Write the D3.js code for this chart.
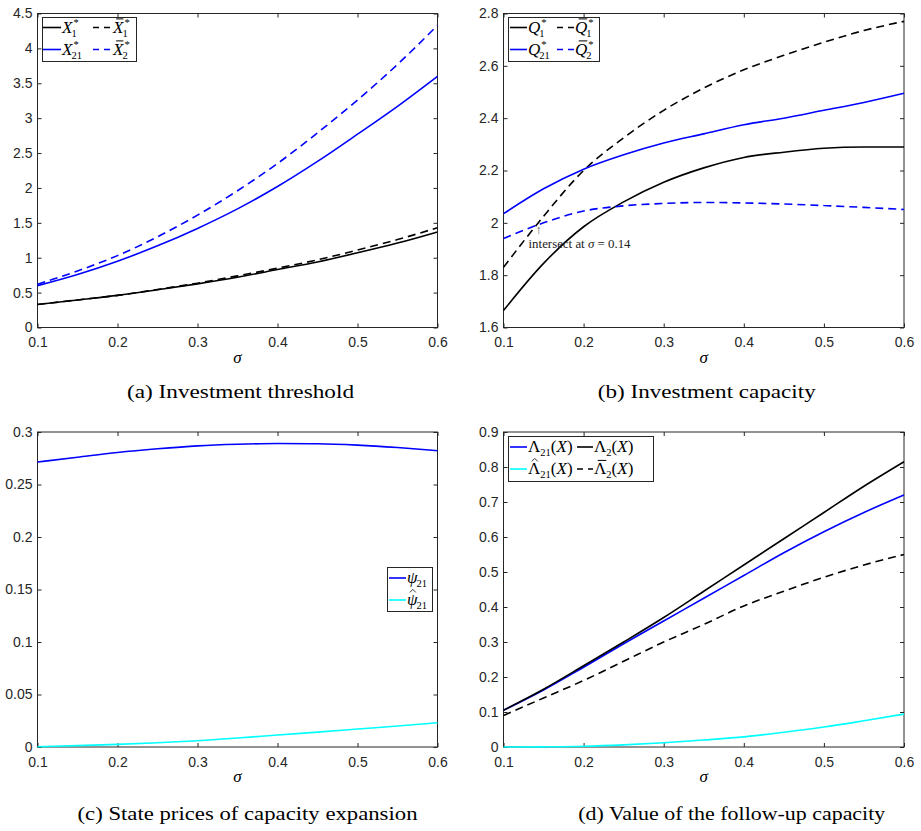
<!DOCTYPE html>
<html lang="en">
<head>
<meta charset="utf-8"/>
<script src="https://d3js.org/d3.v7.min.js"></script>
<style>
  body { margin: 0; background: #fff; }
</style>
</head>
<body>
<div id="chart"></div>
<script>
// sigma grid shared by every panel
var sigma = [0.1, 0.15, 0.2, 0.25, 0.3, 0.35, 0.4, 0.45, 0.5, 0.55, 0.6];
var xTicks = [0.1, 0.2, 0.3, 0.4, 0.5, 0.6];

// (a) investment threshold
var X1 = [0.33, 0.395, 0.46, 0.54, 0.625, 0.72, 0.83, 0.94, 1.07, 1.21, 1.37];
var X1bar = [0.33, 0.395, 0.46, 0.545, 0.635, 0.74, 0.85, 0.97, 1.11, 1.26, 1.43];
var X21 = [0.6, 0.76, 0.95, 1.17, 1.42, 1.7, 2.02, 2.38, 2.77, 3.17, 3.6];
var X2bar = [0.62, 0.81, 1.03, 1.3, 1.61, 1.96, 2.35, 2.79, 3.26, 3.77, 4.33];
var yTicksA = [0, 0.5, 1, 1.5, 2, 2.5, 3, 3.5, 4, 4.5];

// (b) investment capacity
var Q1 = [1.665, 1.845, 1.985, 2.08, 2.155, 2.21, 2.25, 2.27, 2.285, 2.29, 2.29];
var Q1bar = [1.83, 2.025, 2.2, 2.325, 2.43, 2.515, 2.585, 2.64, 2.69, 2.735, 2.77];
var Q21 = [2.035, 2.13, 2.205, 2.26, 2.305, 2.34, 2.375, 2.4, 2.43, 2.46, 2.495];
var Q2bar = [1.94, 2.0, 2.045, 2.065, 2.074, 2.078, 2.076, 2.072, 2.066, 2.059, 2.051];
var yTicksB = [1.6, 1.8, 2, 2.2, 2.4, 2.6, 2.8];
var intersectSigma = 0.14;

// (c) state prices
var psi21 = [0.2714, 0.276, 0.2805, 0.284, 0.2868, 0.2883, 0.289, 0.2888, 0.2875, 0.2852, 0.2822];
var psi21hat = [0.0003, 0.0013, 0.0025, 0.004, 0.006, 0.0085, 0.0114, 0.0142, 0.0171, 0.02, 0.0231];
var yTicksC = [0, 0.05, 0.1, 0.15, 0.2, 0.25, 0.3];

// (d) value of the follow-up capacity
var Lam21 = [0.105, 0.163, 0.228, 0.295, 0.36, 0.425, 0.49, 0.555, 0.615, 0.67, 0.72];
var Lam2 = [0.105, 0.165, 0.232, 0.3, 0.37, 0.445, 0.52, 0.595, 0.67, 0.745, 0.815];
var Lam21hat = [0.0, 0.0005, 0.002, 0.006, 0.012, 0.02, 0.029, 0.042, 0.057, 0.075, 0.094];
var Lam2bar = [0.09, 0.14, 0.19, 0.245, 0.3, 0.35, 0.403, 0.445, 0.485, 0.52, 0.55];
var yTicksD = [0, 0.1, 0.2, 0.3, 0.4, 0.5, 0.6, 0.7, 0.8, 0.9];

var serif = "'Liberation Serif', 'DejaVu Serif', serif";
var sans = "'Liberation Sans', Arial, sans-serif";
var axisColor = "#262626";
var dash = "8,5";

var svg = d3.select("#chart").append("svg")
    .attr("width", 921)
    .attr("height", 831);

// draws a small LaTeX-like label: tokens with optional accent, sub and sup
function mathText(g, x, y, toks, size) {
    var cx = x;
    var ss = size * 0.62;
    toks.forEach(function (tk) {
        var b = g.append("text")
            .attr("x", cx).attr("y", y)
            .attr("font-family", serif)
            .attr("font-size", size)
            .attr("font-style", tk.it ? "italic" : "normal")
            .text(tk.t);
        var w = b.node().getComputedTextLength();
        if (tk.acc == "bar") {
            g.append("line")
                .attr("x1", cx + w * 0.3).attr("x2", cx + w * 1.0)
                .attr("y1", y - size * 0.8).attr("y2", y - size * 0.8)
                .attr("stroke", "#000").attr("stroke-width", 1);
        }
        if (tk.acc == "hat") {
            var hx = cx + w * 0.55, hy = y - size * 0.74;
            g.append("path")
                .attr("d", "M" + (hx - 3) + "," + hy + "L" + hx + "," + (hy - 3) + "L" + (hx + 3) + "," + hy)
                .attr("fill", "none").attr("stroke", "#000").attr("stroke-width", 0.8);
        }
        var sw = 0;
        if (tk.sup) {
            var s = g.append("text")
                .attr("x", cx + w + 1).attr("y", y - size * 0.4)
                .attr("font-family", serif).attr("font-size", ss)
                .text(tk.sup);
            sw = Math.max(sw, s.node().getComputedTextLength() + 1);
        }
        if (tk.sub) {
            var u = g.append("text")
                .attr("x", cx + w - (tk.it ? 1 : 0)).attr("y", y + size * 0.25)
                .attr("font-family", serif).attr("font-size", ss)
                .text(tk.sub);
            sw = Math.max(sw, u.node().getComputedTextLength() - (tk.it ? 1 : 0));
        }
        cx += w + sw;
    });
    return cx;
}

function panel(p) {
    var x = d3.scaleLinear().domain([0.1, 0.6]).range(p.xr);
    var y = d3.scaleLinear().domain([p.yTicks[0], p.yTicks[p.yTicks.length - 1]]).range(p.yr);
    var g = svg.append("g");
    var fmt = d3.format("~g");

    var bottom = g.append("g")
        .attr("transform", "translate(0," + p.yr[0] + ")")
        .call(d3.axisBottom(x).tickValues(xTicks).tickSize(-4).tickPadding(10).tickFormat(fmt));
    var left = g.append("g")
        .attr("transform", "translate(" + p.xr[0] + ",0)")
        .call(d3.axisLeft(y).tickValues(p.yTicks).tickSize(-4).tickPadding(5).tickFormat(fmt));
    var top = g.append("g")
        .attr("transform", "translate(0," + p.yr[1] + ")")
        .call(d3.axisTop(x).tickValues(xTicks).tickSize(-4).tickFormat(""));
    var right = g.append("g")
        .attr("transform", "translate(" + p.xr[1] + ",0)")
        .call(d3.axisRight(y).tickValues(p.yTicks).tickSize(-4).tickFormat(""));
    [bottom, left, top, right].forEach(function (a) {
        a.select(".domain").remove();
        a.selectAll("line").attr("stroke", axisColor);
        a.selectAll("text").attr("font-family", sans).attr("font-size", 14).attr("fill", axisColor);
    });

    g.append("rect")
        .attr("x", p.xr[0]).attr("y", p.yr[1])
        .attr("width", p.xr[1] - p.xr[0]).attr("height", p.yr[0] - p.yr[1])
        .attr("fill", "none").attr("stroke", axisColor).attr("stroke-width", 1);

    var line = d3.line()
        .x(function (d) { return x(d[0]); })
        .y(function (d) { return y(d[1]); })
        .curve(d3.curveMonotoneX);

    p.series.forEach(function (s) {
        g.append("path")
            .datum(sigma.map(function (v, i) { return [v, s.values[i]]; }))
            .attr("d", line)
            .attr("fill", "none")
            .attr("stroke", s.color)
            .attr("stroke-width", 1.6)
            .attr("stroke-dasharray", s.dashed ? dash : null);
    });

    // axis label and caption
    var cxm = (p.xr[0] + p.xr[1]) / 2;
    g.append("text")
        .attr("x", cxm).attr("y", p.yr[0] + 35)
        .attr("text-anchor", "middle")
        .attr("font-family", serif).attr("font-style", "italic").attr("font-size", 17)
        .text("σ");
    g.append("text")
        .attr("x", cxm + p.capShift).attr("y", p.yr[0] + p.capDy)
        .attr("text-anchor", "middle")
        .attr("font-family", serif).attr("font-size", 19)
        .attr("textLength", p.capW).attr("lengthAdjust", "spacingAndGlyphs")
        .text(p.caption);

    // legend
    var L = p.legend;
    var lg = g.append("g");
    lg.append("rect")
        .attr("x", L.box[0]).attr("y", L.box[1])
        .attr("width", L.box[2]).attr("height", L.box[3])
        .attr("fill", "#fff").attr("stroke", axisColor).attr("stroke-width", 1);
    L.items.forEach(function (it) {
        var s = p.series[it.s];
        lg.append("line")
            .attr("x1", it.lx[0]).attr("x2", it.lx[1])
            .attr("y1", it.y).attr("y2", it.y)
            .attr("stroke", s.color).attr("stroke-width", 1.6)
            .attr("stroke-dasharray", s.dashed ? "6,5" : null);
        mathText(lg, it.lx[1] + 1, it.y + 5, s.label, 17);
    });

    return { g: g, x: x, y: y };
}

panel({
    xr: [37.5, 437.5], yr: [327.5, 13.5], yTicks: yTicksA,
    caption: "(a) Investment threshold", capDy: 70, capW: 227, capShift: 3,
    series: [
        { values: X1, color: "#000", dashed: false, label: [{ t: "X", it: 1, sup: "*", sub: "1" }] },
        { values: X1bar, color: "#000", dashed: true, label: [{ t: "X", it: 1, acc: "bar", sup: "*", sub: "1" }] },
        { values: X21, color: "#0000ff", dashed: false, label: [{ t: "X", it: 1, sup: "*", sub: "21" }] },
        { values: X2bar, color: "#0000ff", dashed: true, label: [{ t: "X", it: 1, acc: "bar", sup: "*", sub: "2" }] }
    ],
    legend: {
        box: [42.5, 17.5, 94, 44],
        items: [
            { s: 0, lx: [43, 61], y: 27.5 },
            { s: 1, lx: [93, 112], y: 27.5 },
            { s: 2, lx: [43, 61], y: 49.5 },
            { s: 3, lx: [93, 112], y: 49.5 }
        ]
    }
});

var pb = panel({
    xr: [503.5, 904], yr: [327.5, 13.5], yTicks: yTicksB,
    caption: "(b) Investment capacity", capDy: 70, capW: 218, capShift: 3,
    series: [
        { values: Q1, color: "#000", dashed: false, label: [{ t: "Q", it: 1, sup: "*", sub: "1" }] },
        { values: Q1bar, color: "#000", dashed: true, label: [{ t: "Q", it: 1, acc: "bar", sup: "*", sub: "1" }] },
        { values: Q21, color: "#0000ff", dashed: false, label: [{ t: "Q", it: 1, sup: "*", sub: "21" }] },
        { values: Q2bar, color: "#0000ff", dashed: true, label: [{ t: "Q", it: 1, acc: "bar", sup: "*", sub: "2" }] }
    ],
    legend: {
        box: [508.5, 17.5, 91, 44],
        items: [
            { s: 0, lx: [510, 527], y: 27.5 },
            { s: 1, lx: [557, 574], y: 27.5 },
            { s: 2, lx: [510, 527], y: 49.5 },
            { s: 3, lx: [557, 574], y: 49.5 }
        ]
    }
});

// annotation at the crossing of the dashed capacity curves
var ax = pb.x(intersectSigma);
var ay = pb.y(Q2bar[1]) + 12;
pb.g.append("text")
    .attr("x", ax + 3).attr("y", ay - 1)
    .attr("text-anchor", "middle")
    .attr("font-family", serif).attr("font-size", 12).attr("fill", "#555")
    .text("↑");
var ann = pb.g.append("text")
    .attr("x", ax - 7).attr("y", ay + 13)
    .attr("font-family", serif).attr("font-size", 12.5).attr("fill", "#222")
    .attr("textLength", 102).attr("lengthAdjust", "spacingAndGlyphs");
ann.append("tspan").text("intersect at ");
ann.append("tspan").attr("font-style", "italic").text("σ");
ann.append("tspan").text(" = " + intersectSigma);

panel({
    xr: [37.5, 437.5], yr: [747, 432], yTicks: yTicksC,
    caption: "(c) State prices of capacity expansion", capDy: 73, capW: 340, capShift: 10,
    series: [
        { values: psi21, color: "#0000ff", dashed: false, label: [{ t: "ψ", it: 1, sub: "21" }] },
        { values: psi21hat, color: "#00ffff", dashed: false, label: [{ t: "ψ", it: 1, acc: "hat", sub: "21" }] }
    ],
    legend: {
        box: [387.5, 567.5, 45, 44],
        items: [
            { s: 0, lx: [389, 406], y: 578 },
            { s: 1, lx: [389, 406], y: 600 }
        ]
    }
});

panel({
    xr: [503.5, 904], yr: [747, 432], yTicks: yTicksD,
    caption: "(d) Value of the follow-up capacity", capDy: 73, capW: 307, capShift: 28,
    series: [
        { values: Lam21, color: "#0000ff", dashed: false, label: [{ t: "Λ", sub: "21" }, { t: "(" }, { t: "X", it: 1 }, { t: ")" }] },
        { values: Lam2, color: "#000", dashed: false, label: [{ t: "Λ", sub: "2" }, { t: "(" }, { t: "X", it: 1 }, { t: ")" }] },
        { values: Lam21hat, color: "#00ffff", dashed: false, label: [{ t: "Λ", acc: "hat", sub: "21" }, { t: "(" }, { t: "X", it: 1 }, { t: ")" }] },
        { values: Lam2bar, color: "#000", dashed: true, label: [{ t: "Λ", acc: "bar", sub: "2" }, { t: "(" }, { t: "X", it: 1 }, { t: ")" }] }
    ],
    legend: {
        box: [508.5, 436.5, 145, 45],
        items: [
            { s: 0, lx: [510, 527], y: 447 },
            { s: 1, lx: [577, 593], y: 447 },
            { s: 2, lx: [510, 527], y: 469 },
            { s: 3, lx: [577, 593], y: 469 }
        ]
    }
});
</script>
</body>
</html>
